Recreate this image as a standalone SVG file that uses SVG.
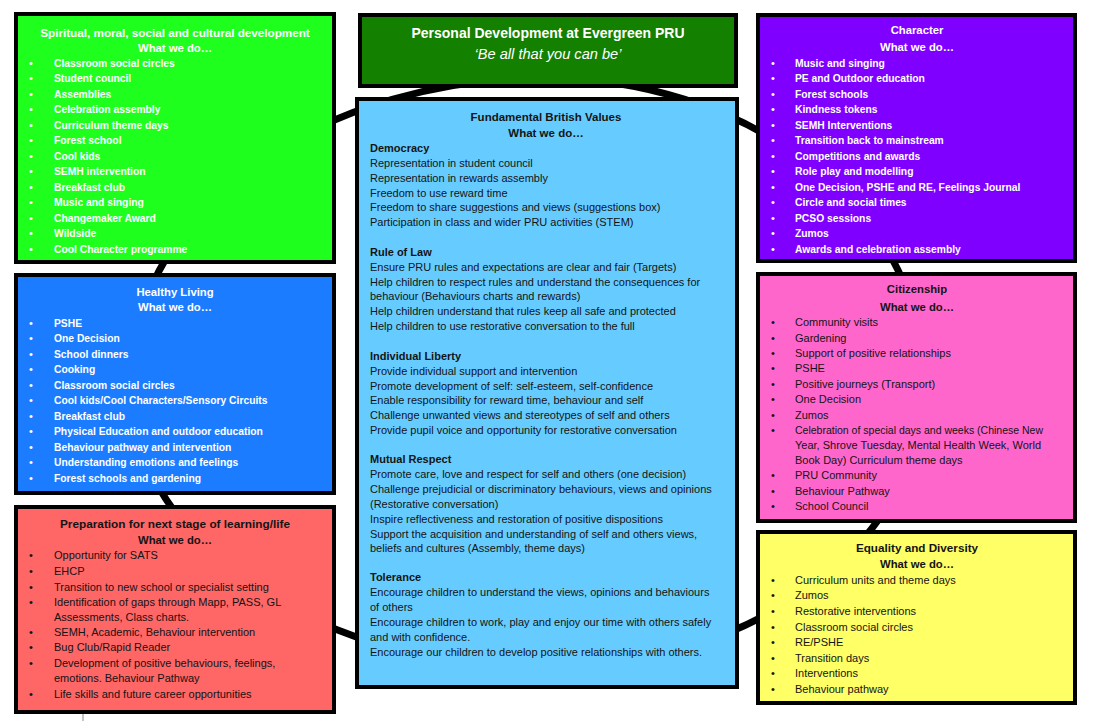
<svg xmlns="http://www.w3.org/2000/svg" width="1095" height="721" viewBox="0 0 1095 721">
<style>
text{font-family:"Liberation Sans",Arial,sans-serif;font-size:11px}
.box{stroke:#000;stroke-width:4}
.w{fill:#fff}
.d{fill:#141414}
.t{font-weight:bold;font-size:11.3px;text-anchor:middle}
.b{font-weight:bold}
.wi text{font-size:10.3px;font-weight:bold}
.bu{text-anchor:middle}
.ring{fill:none;stroke:#000;stroke-width:7}
</style>
<g id="connectors">
<path class="ring" d="M130,383 A415,305 0 0 1 545,78 A380,305 0 0 1 925,383 A380,285 0 0 1 545,668 A415,285 0 0 1 130,383 Z"/>
<line x1="83" y1="714" x2="83" y2="721" stroke="#888" stroke-width="1"/>
</g>

<g id="smsc">
<rect class="box" x="16" y="14" width="318" height="248" fill="#1eff1e"/>
<text class="t w" x="175" y="37" style="font-size:11.7px">Spiritual, moral, social and cultural development</text>
<text class="t w" x="175" y="52">What we do…</text>
<g class="w wi">
<text x="54" y="66.7">Classroom social circles</text>
<text x="54" y="82.2">Student council</text>
<text x="54" y="97.7">Assemblies</text>
<text x="54" y="113.2">Celebration assembly</text>
<text x="54" y="128.7">Curriculum theme days</text>
<text x="54" y="144.2">Forest school</text>
<text x="54" y="159.7">Cool kids</text>
<text x="54" y="175.2">SEMH intervention</text>
<text x="54" y="190.7">Breakfast club</text>
<text x="54" y="206.2">Music and singing</text>
<text x="54" y="221.7">Changemaker Award</text>
<text x="54" y="237.2">Wildside</text>
<text x="54" y="252.7">Cool Character programme</text>
</g>
<g class="w bu">
<text x="31" y="66.7">•</text><text x="31" y="82.2">•</text><text x="31" y="97.7">•</text><text x="31" y="113.2">•</text><text x="31" y="128.7">•</text><text x="31" y="144.2">•</text><text x="31" y="159.7">•</text><text x="31" y="175.2">•</text><text x="31" y="190.7">•</text><text x="31" y="206.2">•</text><text x="31" y="221.7">•</text><text x="31" y="237.2">•</text><text x="31" y="252.7">•</text>
</g>
</g>

<g id="healthy">
<rect class="box" x="16" y="275" width="318" height="218" fill="#1b7cff"/>
<text class="t w" x="175" y="296">Healthy Living</text>
<text class="t w" x="175" y="311">What we do…</text>
<g class="w wi">
<text x="54" y="326.7">PSHE</text>
<text x="54" y="342.2">One Decision</text>
<text x="54" y="357.7">School dinners</text>
<text x="54" y="373.2">Cooking</text>
<text x="54" y="388.7">Classroom social circles</text>
<text x="54" y="404.2">Cool kids/Cool Characters/Sensory Circuits</text>
<text x="54" y="419.7">Breakfast club</text>
<text x="54" y="435.2">Physical Education and outdoor education</text>
<text x="54" y="450.7">Behaviour pathway and intervention</text>
<text x="54" y="466.2">Understanding emotions and feelings</text>
<text x="54" y="481.7">Forest schools and gardening</text>
</g>
<g class="w bu">
<text x="31" y="326.7">•</text><text x="31" y="342.2">•</text><text x="31" y="357.7">•</text><text x="31" y="373.2">•</text><text x="31" y="388.7">•</text><text x="31" y="404.2">•</text><text x="31" y="419.7">•</text><text x="31" y="435.2">•</text><text x="31" y="450.7">•</text><text x="31" y="466.2">•</text><text x="31" y="481.7">•</text>
</g>
</g>

<g id="preparation">
<rect class="box" x="16" y="507" width="318" height="205" fill="#ff6666"/>
<text class="t d" x="175" y="528" style="font-size:11.8px">Preparation for next stage of learning/life</text>
<text class="t d" x="175" y="544">What we do…</text>
<g class="d">
<text x="54" y="558.7">Opportunity for SATS</text>
<text x="54" y="574.7">EHCP</text>
<text x="54" y="590.7">Transition to new school or specialist setting</text>
<text x="54" y="605.7">Identification of gaps through Mapp, PASS, GL</text>
<text x="54" y="620.7">Assessments, Class charts.</text>
<text x="54" y="635.7">SEMH, Academic, Behaviour intervention</text>
<text x="54" y="650.7">Bug Club/Rapid Reader</text>
<text x="54" y="666.7">Development of positive behaviours, feelings,</text>
<text x="54" y="681.7">emotions. Behaviour Pathway</text>
<text x="54" y="697.7">Life skills and future career opportunities</text>
</g>
<g class="d bu">
<text x="31" y="558.7">•</text><text x="31" y="574.7">•</text><text x="31" y="590.7">•</text><text x="31" y="605.7">•</text><text x="31" y="635.7">•</text><text x="31" y="650.7">•</text><text x="31" y="666.7">•</text><text x="31" y="697.7">•</text>
</g>
</g>

<g id="title">
<rect class="box" x="360" y="15" width="376" height="71" fill="#148000"/>
<text class="w b" x="548" y="38" text-anchor="middle" style="font-size:14px">Personal Development at Evergreen PRU</text>
<text class="w" x="548" y="59" text-anchor="middle" style="font-size:14.6px;font-style:italic">‘Be all that you can be’</text>
</g>

<g id="british-values">
<rect class="box" x="357" y="99" width="380" height="588" fill="#66ccff"/>
<text class="t d" x="546" y="121" style="font-size:11.5px">Fundamental British Values</text>
<text class="t d" x="546" y="137" style="font-size:11.5px">What we do…</text>
<g class="d">
<text class="b" x="370" y="151.7">Democracy</text>
<text x="370" y="166.7">Representation in student council</text>
<text x="370" y="181.6">Representation in rewards assembly</text>
<text x="370" y="196.5">Freedom to use reward time</text>
<text x="370" y="211.4">Freedom to share suggestions and views (suggestions box)</text>
<text x="370" y="226.3">Participation in class and wider PRU activities (STEM)</text>
<text class="b" x="370" y="255.7">Rule of Law</text>
<text x="370" y="270.6">Ensure PRU rules and expectations are clear and fair (Targets)</text>
<text x="370" y="285.5">Help children to respect rules and understand the consequences for</text>
<text x="370" y="300.4">behaviour (Behaviours charts and rewards)</text>
<text x="370" y="315.3">Help children understand that rules keep all safe and protected</text>
<text x="370" y="330.2">Help children to use restorative conversation to the full</text>
<text class="b" x="370" y="359.7">Individual Liberty</text>
<text x="370" y="374.6">Provide individual support and intervention</text>
<text x="370" y="389.5">Promote development of self: self-esteem, self-confidence</text>
<text x="370" y="404.4">Enable responsibility for reward time, behaviour and self</text>
<text x="370" y="419.3">Challenge unwanted views and stereotypes of self and others</text>
<text x="370" y="434.2">Provide pupil voice and opportunity for restorative conversation</text>
<text class="b" x="370" y="463">Mutual Respect</text>
<text x="370" y="477.9">Promote care, love and respect for self and others (one decision)</text>
<text x="370" y="492.8">Challenge prejudicial or discriminatory behaviours, views and opinions</text>
<text x="370" y="507.7">(Restorative conversation)</text>
<text x="370" y="522.6">Inspire reflectiveness and restoration of positive dispositions</text>
<text x="370" y="537.5">Support the acquisition and understanding of self and others views,</text>
<text x="370" y="552.4">beliefs and cultures  (Assembly, theme days)</text>
<text class="b" x="370" y="581">Tolerance</text>
<text x="370" y="596.4">Encourage children to understand the views, opinions and behaviours</text>
<text x="370" y="611.3">of others</text>
<text x="370" y="626.2">Encourage children to work, play and enjoy our time with others safely</text>
<text x="370" y="641.1">and with confidence.</text>
<text x="370" y="656">Encourage our children to develop positive relationships with others.</text>
</g>
</g>

<g id="character">
<rect class="box" x="758" y="15" width="317" height="246" fill="#7f00ff"/>
<text class="t w" x="917" y="34">Character</text>
<text class="t w" x="917" y="51">What we do…</text>
<g class="w wi">
<text x="795" y="66.7">Music and singing</text>
<text x="795" y="82.2">PE and Outdoor education</text>
<text x="795" y="97.7">Forest schools</text>
<text x="795" y="113.2">Kindness tokens</text>
<text x="795" y="128.7">SEMH Interventions</text>
<text x="795" y="144.2">Transition back to mainstream</text>
<text x="795" y="159.7">Competitions and awards</text>
<text x="795" y="175.2">Role play and modelling</text>
<text x="795" y="190.7">One Decision, PSHE and RE, Feelings Journal</text>
<text x="795" y="206.2">Circle and social times</text>
<text x="795" y="221.7">PCSO sessions</text>
<text x="795" y="237.2">Zumos</text>
<text x="795" y="252.7">Awards and celebration assembly</text>
</g>
<g class="w bu">
<text x="773" y="66.7">•</text><text x="773" y="82.2">•</text><text x="773" y="97.7">•</text><text x="773" y="113.2">•</text><text x="773" y="128.7">•</text><text x="773" y="144.2">•</text><text x="773" y="159.7">•</text><text x="773" y="175.2">•</text><text x="773" y="190.7">•</text><text x="773" y="206.2">•</text><text x="773" y="221.7">•</text><text x="773" y="237.2">•</text><text x="773" y="252.7">•</text>
</g>
</g>

<g id="citizenship">
<rect class="box" x="758" y="274" width="317" height="247" fill="#ff66cc"/>
<text class="t d" x="917" y="293">Citizenship</text>
<text class="t d" x="917" y="311">What we do…</text>
<g class="d">
<text x="795" y="325.7">Community visits</text>
<text x="795" y="341.7">Gardening</text>
<text x="795" y="356.7">Support of positive relationships</text>
<text x="795" y="371.7">PSHE</text>
<text x="795" y="387.7">Positive journeys (Transport)</text>
<text x="795" y="402.7">One Decision</text>
<text x="795" y="418.7">Zumos</text>
<text x="795" y="433.7" style="font-size:10.5px">Celebration of special days and weeks (Chinese New</text>
<text x="795" y="448.7">Year, Shrove Tuesday, Mental Health Week, World</text>
<text x="795" y="463.7">Book Day) Curriculum theme days</text>
<text x="795" y="478.7">PRU Community</text>
<text x="795" y="494.7">Behaviour Pathway</text>
<text x="795" y="509.7">School Council</text>
</g>
<g class="d bu">
<text x="773" y="325.7">•</text><text x="773" y="341.7">•</text><text x="773" y="356.7">•</text><text x="773" y="371.7">•</text><text x="773" y="387.7">•</text><text x="773" y="402.7">•</text><text x="773" y="418.7">•</text><text x="773" y="433.7">•</text><text x="773" y="478.7">•</text><text x="773" y="494.7">•</text><text x="773" y="509.7">•</text>
</g>
</g>

<g id="equality">
<rect class="box" x="758" y="532" width="317" height="171" fill="#ffff66"/>
<text class="t d" x="917" y="552" style="font-size:11.7px">Equality and Diversity</text>
<text class="t d" x="917" y="568">What we do…</text>
<g class="d">
<text x="795" y="583.7">Curriculum units and theme days</text>
<text x="795" y="599.3">Zumos</text>
<text x="795" y="614.9">Restorative interventions</text>
<text x="795" y="630.5">Classroom social circles</text>
<text x="795" y="646.1">RE/PSHE</text>
<text x="795" y="661.7">Transition days</text>
<text x="795" y="677.3">Interventions</text>
<text x="795" y="692.9">Behaviour pathway</text>
</g>
<g class="d bu">
<text x="773" y="583.7">•</text><text x="773" y="599.3">•</text><text x="773" y="614.9">•</text><text x="773" y="630.5">•</text><text x="773" y="646.1">•</text><text x="773" y="661.7">•</text><text x="773" y="677.3">•</text><text x="773" y="692.9">•</text>
</g>
</g>
</svg>
